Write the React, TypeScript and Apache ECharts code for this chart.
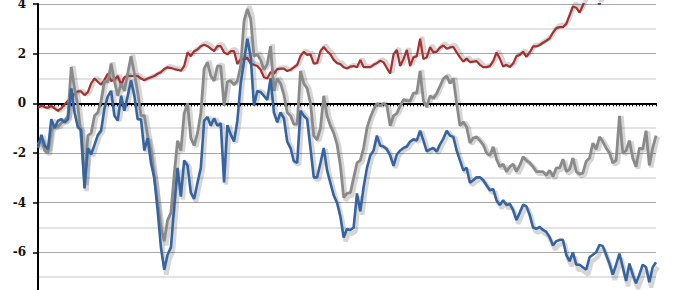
import React, { useEffect, useRef } from "react";
import * as echarts from "echarts";

const yTicks = [-8, -6, -4, -2, 0, 2, 4];

const blueValues = [
  -1.8, -1.27, -1.7, -1.85, -0.64, -1.0, -0.7, -0.64, -0.76, -0.64,
  0.6, -0.37, -0.96, -1.08, -3.43, -1.8, -2.06, -1.67, -1.28, -1.1,
  -0.2, 0.28, 0.5, -0.5, -0.69, 0.3, -0.3, 0.3, 0.93, 0.3,
  -0.64, -0.64, -1.9, -1.4, -2.4, -3.0, -4.3, -5.8, -6.7, -6.1,
  -5.8, -4.15, -2.6, -3.76, -2.3, -2.5, -3.6, -3.85, -3.2, -2.6,
  -0.7, -0.55, -0.9, -0.6, -0.9, -0.8, -3.18, -0.88, -1.25, -1.54,
  -0.7, 0.8, 1.7, 2.6, 1.9, -0.1, 0.5, 0.45, 0.3, 0.14,
  1.0, -0.37, -0.76, -0.37, -0.6, -1.54, -1.8, -2.33, -2.4, -0.3,
  -0.5, -0.64, -1.8, -2.98, -2.98, -2.4, -1.8, -2.7, -3.2, -3.7,
  -4.0, -4.55, -5.4, -5.06, -5.1, -5.0, -3.63, -4.35, -3.37, -2.6,
  -2.1, -1.9, -1.3, -1.7, -1.74, -1.85, -2.1, -2.52, -2.06, -1.9,
  -1.8, -1.74, -1.54, -1.45, -1.5, -1.1, -1.5, -1.93, -1.85, -1.8,
  -1.95, -1.65, -1.42, -1.1, -1.3, -1.35, -1.9, -2.3, -2.7, -2.6,
  -3.2, -3.1, -2.98, -2.98, -3.1, -3.3, -3.5, -3.45, -3.9, -4.1,
  -3.9, -4.1, -4.05, -4.3, -4.7, -4.4, -4.08, -4.15, -4.5, -5.0,
  -5.05, -4.98, -5.1, -5.18, -5.4, -5.72, -5.55, -5.5, -5.5, -6.1,
  -6.36, -6.0, -6.5, -6.5, -6.6, -6.7, -6.2, -6.1, -6.0, -5.7,
  -5.75, -6.1, -6.45, -6.9, -6.5, -6.05, -6.6, -7.15, -6.45, -6.9,
  -7.25, -6.9, -6.5, -6.6, -7.2, -6.6, -6.4,
];

const greyValues = [
  -1.67, -1.45, -1.9, -2.0, -1.1, -0.88, -0.95, -0.8, -0.7, -0.5,
  1.46, 0.6, -0.1, -1.4, -3.2, -1.3, -1.2, -0.5, -0.37, 0.1,
  0.9, 0.85, 1.6, 0.9, 0.3, 0.8, 0.5, 1.2, 1.9, 1.2,
  0.45, -0.5, -0.5, -1.3, -1.9, -3.0, -4.0, -5.0, -5.55, -4.7,
  -4.41, -2.85, -1.5, -1.9, -0.4, 0.0, -1.4, -1.7, -1.2, -0.4,
  1.4, 1.65, 1.1, 0.9, 1.5, 1.5, -0.1, 0.87, 0.9, 0.75,
  0.9, 1.5, 3.3, 3.8, 3.4, 1.9, 1.97, 1.75, 1.35, 1.58,
  2.3, 0.5, 1.0, 0.8, 0.35, -0.37, -0.5, -0.84, -0.84, 1.3,
  0.8, 0.6, 0.0, -1.3, -1.47, -1.0, 0.3, -0.5, -0.9, -1.2,
  -1.65, -2.5, -3.8, -3.63, -3.6, -3.0, -2.4, -2.3, -1.8, -1.0,
  -0.57, -0.25, 0.0, -0.1, 0.0, -0.1, -0.9, -0.5, -0.4, -0.1,
  0.15, 0.1, 0.1, 0.41, 0.41, 1.3, 0.1, -0.15, 0.3, 0.2,
  0.4, 0.7, 1.0, 1.1, 0.8, 1.0, 0.0, -0.9, -0.75, -0.95,
  -1.6, -1.4, -1.35, -1.5, -1.67, -2.0, -2.1, -1.75, -2.25, -2.55,
  -2.45, -2.75, -2.55, -2.45, -2.75, -2.5, -2.15, -2.3, -2.4, -2.55,
  -2.75, -2.75, -2.75, -2.9, -2.7, -2.95, -2.6, -2.6, -2.25, -2.75,
  -2.65, -2.2, -2.75, -2.85, -2.8, -2.33, -2.2, -1.6, -1.85, -1.35,
  -1.55, -1.8, -2.0, -2.4, -2.3, -0.5, -2.0, -1.9, -1.5, -2.2,
  -2.55, -1.8, -1.85, -1.1, -2.5, -1.8, -1.3,
];

const redValues = [
  -0.18, -0.1, -0.15, -0.18, -0.1, -0.2, -0.3, -0.2, -0.05, 0.1,
  0.2, 0.4, 0.48, 0.48, 0.33, 0.45, 0.8, 1.0, 0.87, 0.75,
  0.95, 1.19, 0.9, 0.95, 1.1, 0.75, 1.05, 1.1, 1.1, 1.1,
  1.1, 1.0, 0.93, 1.0, 1.05, 1.1, 1.19, 1.25, 1.38, 1.45,
  1.42, 1.38, 1.35, 1.31, 1.5, 2.05, 1.9, 2.1, 2.17, 2.3,
  2.36, 2.3, 2.2, 2.1, 2.3, 2.3, 2.05, 1.97, 2.1, 2.1,
  1.58, 1.78, 1.78, 1.83, 1.6, 1.55, 1.5, 1.35, 1.05, 1.0,
  1.25, 1.2, 1.38, 1.4, 1.4, 1.3, 1.35, 1.45, 1.55, 1.9,
  2.07, 1.95, 1.97, 1.6, 1.62, 2.1, 2.27, 2.1, 1.97, 1.75,
  1.62, 1.58, 1.45, 1.4, 1.48, 1.5, 1.45, 1.75, 1.46, 1.46,
  1.46, 1.55, 1.62, 1.72, 1.65, 1.42, 1.2, 1.97, 2.15, 1.5,
  1.78, 2.15, 1.5, 1.85, 1.9, 2.6, 1.78, 1.85, 2.27, 2.05,
  2.08, 2.25, 2.33, 2.2, 2.25, 2.27, 2.05, 1.85, 1.68, 1.8,
  1.66, 1.68, 1.7, 1.55, 1.46, 1.46, 1.5, 1.7, 2.05, 1.8,
  1.48, 1.55, 1.46, 1.6, 1.9, 1.95, 2.08, 1.87, 2.05, 2.29,
  2.29, 2.35, 2.44, 2.52, 2.62, 2.85, 3.03, 3.07, 3.07, 3.2,
  3.55, 3.9, 3.85, 3.65, 3.95, 4.3, 4.5, 4.4, 4.2, 3.98,
  4.3, 4.5, 4.6, 4.8, 4.7, 4.9, 5.0, 5.1, 5.0, 5.2,
  5.1, 5.3, 5.2, 5.3, 5.4, 5.3, 5.4,
];

const categories = blueValues.map((_, i) => String(i + 1));

export default function App() {
  const ref = useRef<HTMLDivElement>(null);
  useEffect(() => {
    if (!ref.current) return;
    const chart = echarts.init(ref.current, undefined, { renderer: "svg" });
    const shadowStyle = { color: "rgba(0,0,0,0.16)", width: 4.5 };
    const shadowSeries = (data: number[], z: number) => ({
      type: "line",
      data,
      xAxisIndex: 1,
      yAxisIndex: 1,
      showSymbol: false,
      symbol: "none",
      silent: true,
      z,
      lineStyle: shadowStyle,
    });
    chart.setOption({
      animation: false,
      grid: [
        { left: 38, right: 24, top: 0, bottom: 3 },
        { left: 40, right: 22, top: 3, bottom: 0 },
      ],
      xAxis: [
        {
          type: "category",
          data: categories,
          boundaryGap: false,
          axisLine: { onZero: true, lineStyle: { color: "#000", width: 2 } },
          axisTick: { show: true, interval: 0, length: 3, lineStyle: { color: "#000", width: 1 } },
          axisLabel: { show: false },
          splitLine: { show: false },
        },
        {
          type: "category",
          gridIndex: 1,
          data: categories,
          boundaryGap: false,
          show: false,
        },
      ],
      yAxis: [
        {
          type: "value",
          min: yTicks[0],
          max: yTicks[yTicks.length - 1],
          interval: 2,
          axisLine: { show: true, lineStyle: { color: "#000", width: 2 } },
          axisTick: { show: true, length: 5, lineStyle: { color: "#000", width: 1.5 } },
          axisLabel: {
            color: "#111",
            fontFamily: "DejaVu Serif",
            fontWeight: "bold",
            fontSize: 12,
            margin: 12,
          },
          splitLine: { show: true, lineStyle: { color: "#a8a8a8", width: 1 } },
          minorTick: { show: false, splitNumber: 2 },
          minorSplitLine: { show: true, lineStyle: { color: "#dadada", width: 1.5 } },
        },
        {
          type: "value",
          gridIndex: 1,
          min: yTicks[0],
          max: yTicks[yTicks.length - 1],
          interval: 2,
          show: false,
          splitLine: { show: false },
        },
      ],
      series: [
        shadowSeries(redValues, 1),
        shadowSeries(greyValues, 1),
        shadowSeries(blueValues, 1),
        {
          name: "red",
          type: "line",
          data: redValues,
          showSymbol: false,
          symbol: "none",
          z: 3,
          lineStyle: { color: "#a5302f", width: 2.2 },
        },
        {
          name: "grey",
          type: "line",
          data: greyValues,
          showSymbol: false,
          symbol: "none",
          z: 4,
          lineStyle: { color: "#8a8a8a", width: 2.8 },
        },
        {
          name: "blue",
          type: "line",
          data: blueValues,
          showSymbol: false,
          symbol: "none",
          z: 5,
          lineStyle: { color: "#35649f", width: 2.6 },
        },
      ],
    });
    return () => chart.dispose();
  }, []);
  return (
    <div
      style={{
        position: "fixed",
        left: 0,
        top: 0,
        width: 680,
        height: 290,
        overflow: "hidden",
        background: "#fff",
      }}
    >
      <div
        ref={ref}
        style={{ position: "absolute", left: 0, top: -2, width: 680, height: 310 }}
      />
    </div>
  );
}
